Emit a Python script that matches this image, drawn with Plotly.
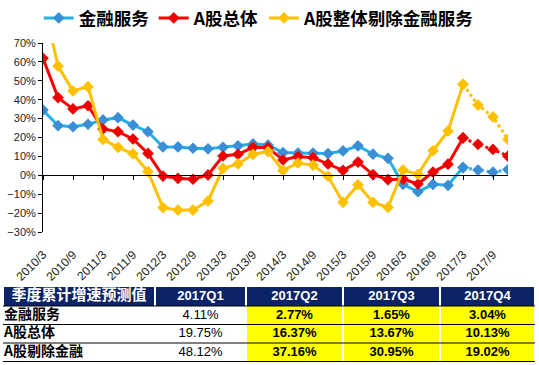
import plotly.graph_objects as go

categories = ["2010/3", "2010/6", "2010/9", "2010/12", "2011/3", "2011/6", "2011/9", "2011/12",
              "2012/3", "2012/6", "2012/9", "2012/12", "2013/3", "2013/6", "2013/9", "2013/12",
              "2014/3", "2014/6", "2014/9", "2014/12", "2015/3", "2015/6", "2015/9", "2015/12",
              "2016/3", "2016/6", "2016/9", "2016/12", "2017/3", "2017/6", "2017/9", "2017/12"]
tick_labels = ["2010/3", "2010/9", "2011/3", "2011/9", "2012/3", "2012/9", "2013/3", "2013/9",
               "2014/3", "2014/9", "2015/3", "2015/9", "2016/3", "2016/9", "2017/3", "2017/9"]

names = ["金融服务", "A股总体", "A股整体剔除金融服务"]

fin_actual = [34.5, 26.3, 25.7, 27.0, 29.3, 30.5, 26.6, 23.1, 15.0, 15.0, 14.3, 14.0,
              14.8, 15.6, 16.6, 16.0, 12.0, 11.8, 11.8, 11.5, 12.9, 15.6, 11.2, 9.0,
              -4.8, -8.7, -4.8, -5.3]
all_actual = [61.9, 41.1, 35.1, 36.8, 24.5, 23.1, 19.2, 11.6, -0.4, -1.6, -2.1, 0.2,
              10.2, 11.1, 14.8, 14.6, 8.1, 9.9, 9.3, 6.0, 2.6, 7.0, 0.4, -2.3,
              -2.0, -4.6, 1.7, 5.9]
exfin_actual = [93.0, 57.8, 44.6, 46.9, 19.0, 14.8, 11.4, 1.9, -17.1, -18.4, -18.4, -13.6,
                3.7, 6.0, 11.1, 12.5, 2.6, 6.5, 5.4, -0.5, -14.3, -5.0, -14.3, -17.0,
                2.8, 0.5, 13.0, 23.4]

forecast_quarters = ["2017Q1", "2017Q2", "2017Q3", "2017Q4"]
fin_forecast = [4.11, 2.77, 1.65, 3.04]
all_forecast = [19.75, 16.37, 13.67, 10.13]
exfin_forecast = [48.12, 37.16, 30.95, 19.02]

table_title = "季度累计增速预测值"
table_rows = ["金融服务", "A股总体", "A股剔除金融"]

line_colors = ["#22B1E8", "#FF0000", "#FFC000"]
marker_colors = ["#3A8ED6", "#EE0000", "#FFC000"]

W, H = 539, 365
px_l, px_r = 43, 508
px_t, px_b = 43, 232
xd = [px_l / W, px_r / W]
yd = [1 - px_b / H, 1 - px_t / H]
y_min, y_max = -30, 70
zero_pos = yd[0] + (0 - y_min) / (y_max - y_min) * (yd[1] - yd[0])

fig = go.Figure()
series = [(fin_actual, fin_forecast), (all_actual, all_forecast), (exfin_actual, exfin_forecast)]
n_act = len(fin_actual)
for i, (act, fc) in enumerate(series):
    solid_y = act + fc[:1]
    fig.add_trace(go.Scatter(
        x=categories[:n_act + 1], y=solid_y, name=names[i], mode="lines+markers",
        line=dict(color=line_colors[i], width=3),
        marker=dict(symbol="diamond", size=9, color=marker_colors[i]),
        hoverinfo="x+y",
    ))
    fig.add_trace(go.Scatter(
        x=categories[n_act:], y=fc, name=names[i], mode="lines+markers", showlegend=False,
        line=dict(color=line_colors[i], width=3, dash="dot"),
        marker=dict(symbol="diamond", size=9, color=marker_colors[i]),
    ))

# dummy trace for the zero-crossing category axis
fig.add_trace(go.Scatter(x=categories, y=[None] * len(categories), xaxis="x2",
                         showlegend=False, hoverinfo="skip"))

# ---------------- table (heatmap cells on their own axes) ----------------
tbl_top = 287
col_edges = [3, 155, 246, 343, 440, 535]
row_edges = [0, 19, 37.5, 56, 74.5]
tbl_h = H - tbl_top
# 0 white, 1 yellow, 2 navy
z = [[2, 2, 2, 2, 2]] + [[0, 0, 1, 1, 1] for _ in table_rows]
fig.add_trace(go.Heatmap(
    x=col_edges, y=row_edges, z=z, xaxis="x3", yaxis="y3",
    colorscale=[[0, "white"], [0.5, "#FFFF00"], [1, "#0B2468"]], zmin=0, zmax=2,
    showscale=False, xgap=2, hoverinfo="skip",
))
cx = [(col_edges[j] + col_edges[j + 1]) / 2 for j in range(5)]
cy = [(row_edges[r] + row_edges[r + 1]) / 2 for r in range(4)]
fmt = lambda v: f"{v:.2f}%"
all_fc = [fin_forecast, all_forecast, exfin_forecast]

# header texts
fig.add_trace(go.Scatter(
    x=cx[:1], y=[cy[0]], mode="text", xaxis="x3", yaxis="y3", showlegend=False, hoverinfo="skip",
    text=[f"<b>{table_title}</b>"],
    textfont=dict(color="white", size=15, family="Noto Sans CJK SC"),
))
fig.add_trace(go.Scatter(
    x=cx[1:], y=[cy[0]] * 4, mode="text", xaxis="x3", yaxis="y3", showlegend=False, hoverinfo="skip",
    text=[f"<b>{q}</b>" for q in forecast_quarters],
    textfont=dict(color="white", size=13, family="Liberation Sans"),
))
# row labels
fig.add_trace(go.Scatter(
    x=[col_edges[0] + 1] * 3, y=cy[1:], mode="text", xaxis="x3", yaxis="y3", showlegend=False,
    hoverinfo="skip", text=[f"<b>{r}</b>" for r in table_rows], textposition="middle right",
    textfont=dict(color="black", size=14, family="Noto Sans CJK SC"),
))
# Q1 (actual) values
fig.add_trace(go.Scatter(
    x=[cx[1]] * 3, y=cy[1:], mode="text", xaxis="x3", yaxis="y3", showlegend=False,
    hoverinfo="skip", text=[fmt(s[0]) for s in all_fc],
    textfont=dict(color="black", size=13, family="Liberation Sans"),
))
# forecast values
fx, fy, ft = [], [], []
for q in range(1, 4):
    for r, s in enumerate(all_fc):
        fx.append(cx[q + 1]); fy.append(cy[r + 1]); ft.append(f"<b>{fmt(s[q])}</b>")
fig.add_trace(go.Scatter(
    x=fx, y=fy, mode="text", xaxis="x3", yaxis="y3", showlegend=False, hoverinfo="skip",
    text=ft, textfont=dict(color="black", size=13, family="Liberation Sans"),
))
# horizontal rules
rx, ry = [], []
for e in row_edges[1:]:
    rx += [col_edges[0], col_edges[-1], None]; ry += [e, e, None]
fig.add_trace(go.Scatter(
    x=rx, y=ry, mode="lines", xaxis="x3", yaxis="y3", showlegend=False, hoverinfo="skip",
    line=dict(color="black", width=1),
))

fig.update_layout(
    width=W, height=H,
    margin=dict(l=0, r=0, t=0, b=0, autoexpand=False),
    paper_bgcolor="white", plot_bgcolor="white",
    font=dict(family="Liberation Sans, Arial, sans-serif", color="black"),
    showlegend=True,
    legend=dict(orientation="h", x=0.48, xanchor="center", y=1.0, yanchor="top",
                font=dict(size=17.5, family="Noto Sans CJK SC", color="black", weight="bold"),
                itemwidth=30, tracegroupgap=0, bgcolor="rgba(0,0,0,0)"),
    xaxis=dict(domain=xd, type="category", categoryorder="array", categoryarray=categories,
               range=[0, len(categories) - 1], showline=False, showgrid=False, zeroline=False,
               tickmode="array", tickvals=tick_labels, ticktext=tick_labels, tickangle=-45,
               ticks="outside", ticklen=10, tickcolor="rgba(0,0,0,0)",
               tickfont=dict(size=12, color="#222"), anchor="y", automargin=False),
    xaxis2=dict(domain=xd, type="category", categoryorder="array", categoryarray=categories,
                overlaying="x", anchor="free", position=zero_pos, side="bottom",
                range=[0, len(categories) - 1], showline=True, linecolor="black", linewidth=1,
                ticks="outside", ticklen=4, tickcolor="black", tickmode="array",
                tickvals=tick_labels, showticklabels=False, showgrid=False, zeroline=False,
                automargin=False),
    yaxis=dict(domain=yd, range=[y_min, y_max], dtick=10, ticksuffix="%", showline=True,
               linecolor="black", linewidth=1, ticks="outside", ticklen=4, tickcolor="black",
               showgrid=False, zeroline=False, tickfont=dict(size=11, color="#222"),
               automargin=False),
    xaxis3=dict(domain=[0, 1], range=[0, W], visible=False, anchor="y3", fixedrange=True),
    yaxis3=dict(domain=[0, tbl_h / H], range=[tbl_h, 0], visible=False, anchor="x3",
                fixedrange=True),
)

fig.write_html("out.html", config={"displayModeBar": False},
               post_script="document.body.style.margin='0px';document.body.style.overflow='hidden';")
